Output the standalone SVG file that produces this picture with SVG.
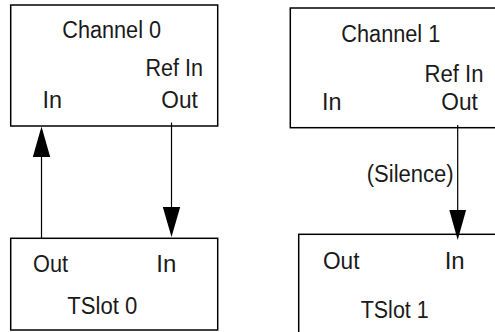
<svg xmlns="http://www.w3.org/2000/svg" width="495" height="332" viewBox="0 0 495 332">
<style>
.box{fill:#fff;stroke:#000;stroke-width:1.5}
.t{font-family:"Liberation Sans",Arial,sans-serif;font-size:23px;fill:#1a1a1a}
.c{stroke:#000;stroke-width:1.2;fill:none}
.h{fill:#000}
</style>
<g id="channel0">
<rect class="box" x="10.7" y="5" width="207" height="121"/>
<text class="t" x="62.3" y="38" textLength="98.7" lengthAdjust="spacingAndGlyphs">Channel 0</text>
<text class="t" x="145.5" y="76" textLength="57.5" lengthAdjust="spacingAndGlyphs">Ref In</text>
<text class="t" x="42.5" y="108" textLength="19.5" lengthAdjust="spacingAndGlyphs">In</text>
<text class="t" x="161.3" y="108" textLength="36.5" lengthAdjust="spacingAndGlyphs">Out</text>
</g>
<g id="channel1">
<rect class="box" x="290.3" y="8" width="215" height="119.7"/>
<text class="t" x="341.3" y="41.5" textLength="99" lengthAdjust="spacingAndGlyphs">Channel 1</text>
<text class="t" x="424.5" y="81.5" textLength="59" lengthAdjust="spacingAndGlyphs">Ref In</text>
<text class="t" x="322" y="109.5" textLength="19.5" lengthAdjust="spacingAndGlyphs">In</text>
<text class="t" x="441.3" y="109.5" textLength="36.5" lengthAdjust="spacingAndGlyphs">Out</text>
</g>
<g id="tslot0">
<rect class="box" x="10.7" y="238.3" width="207" height="91.7"/>
<text class="t" x="33" y="271.5" textLength="35" lengthAdjust="spacingAndGlyphs">Out</text>
<text class="t" x="156.3" y="271.5" textLength="20" lengthAdjust="spacingAndGlyphs">In</text>
<text class="t" x="67.3" y="314" textLength="70" lengthAdjust="spacingAndGlyphs">TSlot 0</text>
</g>
<g id="tslot1">
<rect class="box" x="298.7" y="234.3" width="210" height="110"/>
<text class="t" x="323" y="268.5" textLength="36.5" lengthAdjust="spacingAndGlyphs">Out</text>
<text class="t" x="444.7" y="268.5" textLength="20" lengthAdjust="spacingAndGlyphs">In</text>
<text class="t" x="360.7" y="317.5" textLength="68" lengthAdjust="spacingAndGlyphs">TSlot 1</text>
</g>
<g id="connectors">
<line class="c" x1="41.5" y1="238.3" x2="41.5" y2="155"/>
<polygon class="h" points="41.5,126.5 32.8,157 50.2,157"/>
<line class="c" x1="171.5" y1="122.5" x2="171.5" y2="208"/>
<polygon class="h" points="171.5,237 162.8,207 180.2,207"/>
<line class="c" x1="457.7" y1="125" x2="457.7" y2="211"/>
<polygon class="h" points="457.7,240 449.3,210 466.1,210"/>
<text class="t" x="366.7" y="182" textLength="87" lengthAdjust="spacingAndGlyphs">(Silence)</text>
</g>
</svg>
